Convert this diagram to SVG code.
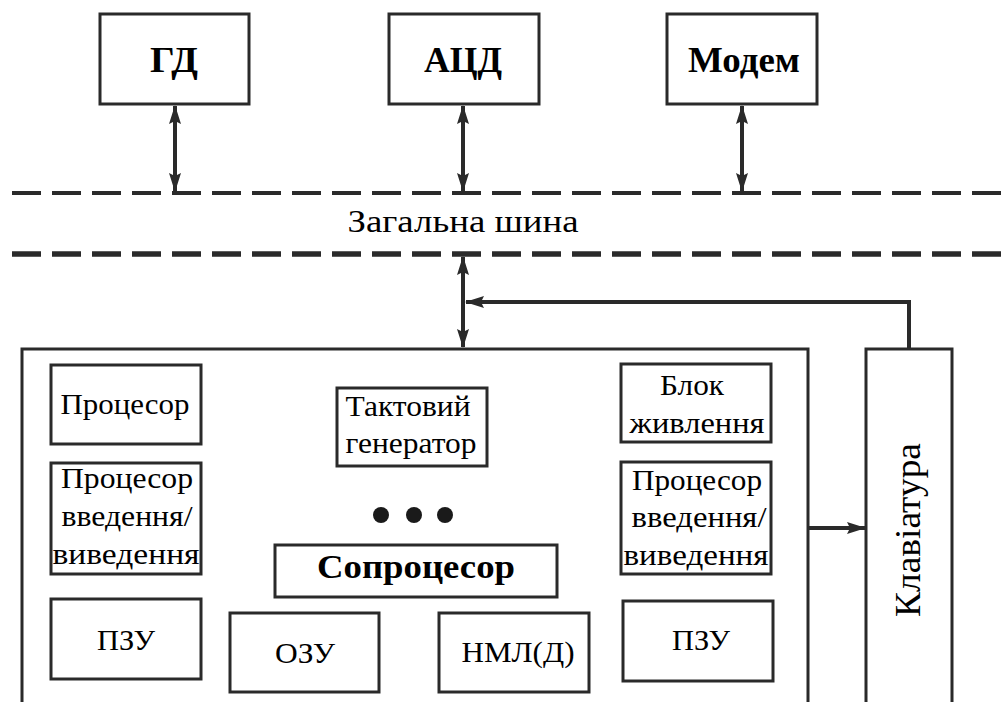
<svg xmlns="http://www.w3.org/2000/svg" width="1003" height="702" viewBox="0 0 1003 702">
<style>
.box{fill:#fff;stroke:#2a2a2a;stroke-width:3}
.open{fill:none;stroke:#2a2a2a;stroke-width:3}
.bus{fill:none;stroke:#2a2a2a;stroke-dasharray:29 11}
.conn{fill:none;stroke:#2a2a2a;stroke-width:4}
.t{font-family:"Liberation Serif",serif;fill:#000}
.big{font-size:36px;font-weight:bold}
.mid{font-size:31px}
.lbl{font-size:29px}
</style>
<defs>
<marker id="ah" markerUnits="userSpaceOnUse" viewBox="0 0 24 14" refX="23" refY="7" markerWidth="24" markerHeight="14" orient="auto-start-reverse">
<path d="M24,7 L5,1 L8,7 L5,13 Z" fill="#2a2a2a"/>
</marker>
</defs>
<rect width="1003" height="702" fill="#fff"/>

<g id="bus">
<line class="bus" x1="12" y1="193" x2="1003" y2="193" stroke-width="4"/>
<line class="bus" x1="12" y1="254" x2="1003" y2="254" stroke-width="5.5"/>
<text class="t mid" x="347.5" y="232" textLength="231" lengthAdjust="spacingAndGlyphs">Загальна шина</text>
</g>

<g id="connectors" class="conn">
<line x1="175" y1="106" x2="175" y2="191" marker-start="url(#ah)" marker-end="url(#ah)"/>
<line x1="463" y1="106" x2="463" y2="191" marker-start="url(#ah)" marker-end="url(#ah)"/>
<line x1="742" y1="106" x2="742" y2="191" marker-start="url(#ah)" marker-end="url(#ah)"/>
<line x1="463" y1="257" x2="463" y2="347" marker-start="url(#ah)" marker-end="url(#ah)"/>
<path d="M909,348 V302 H466" marker-end="url(#ah)"/>
<line x1="808" y1="528" x2="865" y2="528" marker-end="url(#ah)"/>
</g>

<g id="gd"><rect class="box" x="100" y="14" width="149" height="90"/><text class="t big" x="150" y="72" textLength="48" lengthAdjust="spacingAndGlyphs">ГД</text></g>
<g id="acd"><rect class="box" x="389" y="14" width="150" height="90"/><text class="t big" x="424" y="72" textLength="78" lengthAdjust="spacingAndGlyphs">АЦД</text></g>
<g id="modem"><rect class="box" x="667" y="14" width="150" height="90"/><text class="t big" x="688" y="72" textLength="112" lengthAdjust="spacingAndGlyphs">Модем</text></g>

<g id="main"><path class="open" d="M22,710 V349 H808 V710"/></g>
<g id="keyboard"><path class="open" d="M866,710 V349 H952 V710"/>
<text class="t" font-size="36" transform="translate(920,530) rotate(-90)" x="-87" y="0" textLength="174" lengthAdjust="spacingAndGlyphs">Клавіатура</text></g>

<g id="cpu"><rect class="box" x="51" y="365" width="150" height="79"/>
<text class="t lbl" x="60.5" y="414" textLength="129" lengthAdjust="spacingAndGlyphs">Процесор</text></g>

<g id="io-left"><rect class="box" x="51" y="463" width="150" height="111"/>
<text class="t lbl" x="61" y="488" textLength="132" lengthAdjust="spacingAndGlyphs">Процесор</text>
<text class="t lbl" x="61.5" y="526" textLength="131" lengthAdjust="spacingAndGlyphs">введення/</text>
<text class="t lbl" x="52.5" y="564" textLength="147" lengthAdjust="spacingAndGlyphs">виведення</text></g>

<g id="rom-left"><rect class="box" x="51" y="599" width="150" height="80"/>
<text class="t lbl" x="97" y="650" textLength="58" lengthAdjust="spacingAndGlyphs">ПЗУ</text></g>

<g id="clock"><rect class="box" x="337" y="388" width="150" height="78"/>
<text class="t lbl" x="345.5" y="416" textLength="125" lengthAdjust="spacingAndGlyphs">Тактовий</text>
<text class="t lbl" x="345.5" y="453" textLength="131" lengthAdjust="spacingAndGlyphs">генератор</text></g>

<g id="dots" fill="#1a1a1a"><circle cx="381" cy="515" r="8"/><circle cx="414" cy="515" r="8"/><circle cx="445" cy="515" r="8"/></g>

<g id="copro"><rect class="box" x="275" y="545" width="282" height="52"/>
<text class="t" font-size="33" font-weight="bold" x="317" y="578" textLength="198" lengthAdjust="spacingAndGlyphs">Сопроцесор</text></g>

<g id="ram"><rect class="box" x="230" y="613" width="149" height="79"/>
<text class="t lbl" x="275" y="663" textLength="60" lengthAdjust="spacingAndGlyphs">ОЗУ</text></g>

<g id="nml"><rect class="box" x="439" y="613" width="150" height="79"/>
<text class="t lbl" x="461.5" y="662" textLength="113" lengthAdjust="spacingAndGlyphs">НМЛ(Д)</text></g>

<g id="power"><rect class="box" x="621" y="364" width="150" height="78"/>
<text class="t lbl" x="660" y="395" textLength="64" lengthAdjust="spacingAndGlyphs">Блок</text>
<text class="t lbl" x="629.5" y="433" textLength="135" lengthAdjust="spacingAndGlyphs">живлення</text></g>

<g id="io-right"><rect class="box" x="621" y="462" width="150" height="112"/>
<text class="t lbl" x="632" y="490" textLength="130" lengthAdjust="spacingAndGlyphs">Процесор</text>
<text class="t lbl" x="631.5" y="527" textLength="135" lengthAdjust="spacingAndGlyphs">введення/</text>
<text class="t lbl" x="623.5" y="565" textLength="145" lengthAdjust="spacingAndGlyphs">виведення</text></g>

<g id="rom-right"><rect class="box" x="623" y="601" width="150" height="80"/>
<text class="t lbl" x="672" y="650" textLength="58" lengthAdjust="spacingAndGlyphs">ПЗУ</text></g>
</svg>
